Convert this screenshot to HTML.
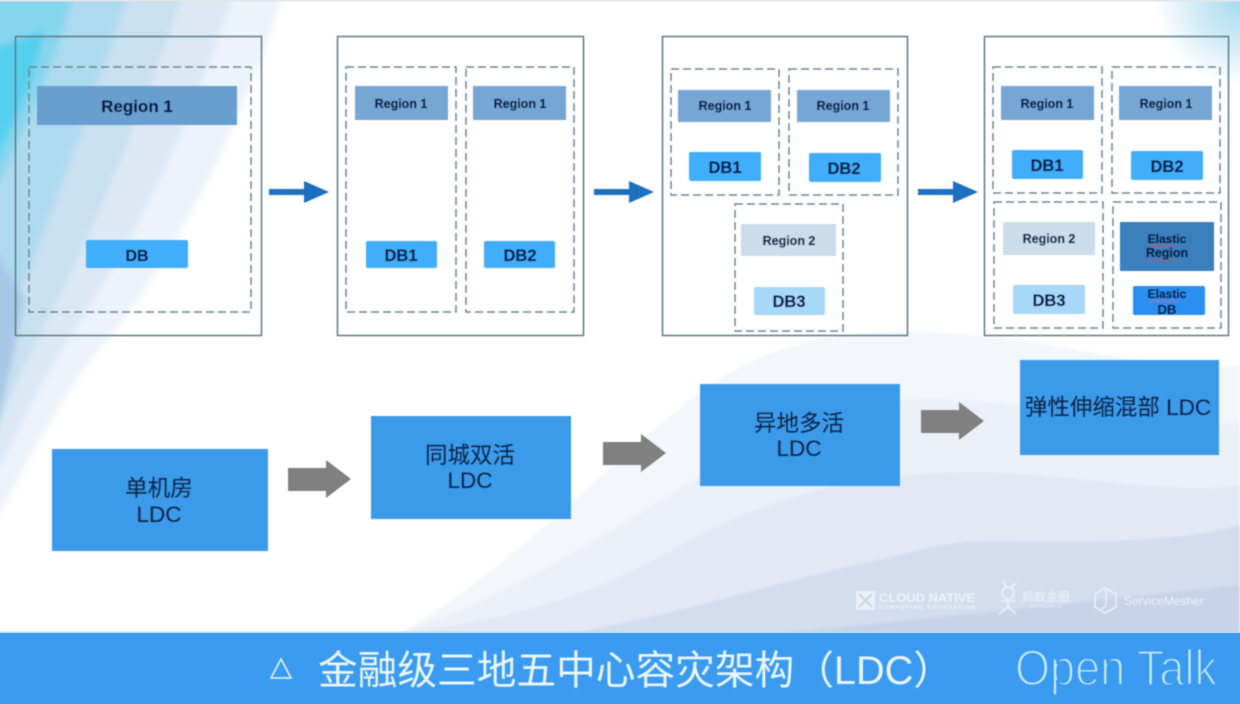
<!DOCTYPE html>
<html><head><meta charset="utf-8"><style>
html,body{margin:0;padding:0;background:#fff}
svg{display:block}
text{font-family:"Liberation Sans","Noto Sans CJK SC",sans-serif;text-anchor:middle}
.b{font-weight:700;fill:#051a47;stroke:#051a47;stroke-width:.25}
.c{fill:#10244c;stroke:#10244c;stroke-width:.35;font-size:22.5px}
.p{fill:none;stroke:#5b7a88;stroke-width:1.5}
.d{fill:none;stroke:#6f8790;stroke-width:1.5;stroke-dasharray:8 4}
</style></head><body>
<svg width="1240" height="704" viewBox="0 0 1240 704" xmlns="http://www.w3.org/2000/svg">
<defs>
<radialGradient id="tr" cx="1240" cy="0" r="85" gradientUnits="userSpaceOnUse"><stop offset="0" stop-color="#a4dcf0"/><stop offset=".5" stop-color="#cfeaf6"/><stop offset="1" stop-color="#fff"/></radialGradient>
<filter id="s" x="-5%" y="-5%" width="110%" height="110%"><feGaussianBlur stdDeviation="0.4"/></filter>
<filter id="bl" x="-20%" y="-20%" width="140%" height="140%"><feGaussianBlur stdDeviation="3.5"/></filter>
<filter id="bw" x="-20%" y="-20%" width="140%" height="140%"><feGaussianBlur stdDeviation="1.2"/></filter>
</defs>
<rect width="1240" height="704" fill="#fff"/>
<g filter="url(#bl)">
<path d="M-10 -10H285C245 120 170 270 95 355C55 405 20 480 -10 530Z" fill="#edf3fa"/>
<path d="M-10 -10H235C190 130 130 250 65 345C35 395 10 445 -10 490Z" fill="#dce9f5"/>
<path d="M-10 -10H185C140 120 90 240 40 335C20 375 5 410 -10 445Z" fill="#c9e0f1"/>
<path d="M-10 -10H130C100 80 60 190 25 280L-10 350Z" fill="#aedaef"/>
<path d="M-10 -10H75C60 50 30 120 -10 200Z" fill="#86d5ee"/>
<path d="M-10 50L45 30C35 75 15 125 -10 170Z" fill="#55cfee"/>
<path d="M-10 240L25 300C15 345 5 400 -10 450Z" fill="#a7c7e6"/>
</g>
<rect x="1140" y="0" width="100" height="90" fill="url(#tr)"/>
<rect width="1240" height="1.5" fill="#e2e6e8"/>
<g filter="url(#bw)">
<path d="M400 633C510 570 600 470 700 392C790 325 900 325 1000 338C1100 350 1180 375 1240 365V633Z" fill="#f3f6fb"/>
<path d="M400 633C530 590 640 510 760 440C830 400 900 395 988 402C1080 410 1170 432 1240 422V633Z" fill="#ebf0f8"/>
<path d="M400 633C500 620 590 600 680 545C780 490 880 470 988 472C1080 475 1170 495 1240 485V633Z" fill="#e2e9f4"/>
<path d="M570 633C680 615 780 580 870 562C920 550 950 541 988 541C1080 541 1170 545 1240 525V633Z" fill="#d2ddee"/>
<path d="M780 633C900 622 1100 600 1240 585V633Z" fill="#c7d3e8"/>
</g>

<g filter="url(#s)">
<rect class="p" x="15.5" y="36.5" width="246" height="299"/>
<rect class="d" x="29" y="67" width="222" height="245"/>
<rect x="37" y="86" width="200" height="39" fill="#699fcf"/>
<text x="137" y="112" class="b" font-size="17">Region 1</text>
<rect x="86" y="240" width="102" height="28" rx="2" fill="#40aefb"/>
<text x="137" y="261" class="b" font-size="16">DB</text>

<rect class="p" x="337.5" y="36.5" width="246" height="299"/>
<rect class="d" x="346" y="67" width="110" height="245"/>
<rect class="d" x="466" y="67" width="108" height="245"/>
<rect x="355" y="86" width="93" height="34" fill="#74a6d4"/>
<rect x="473" y="86" width="93" height="34" fill="#74a6d4"/>
<text x="401" y="108" class="b" font-size="12.5">Region 1</text>
<text x="520" y="108" class="b" font-size="12.5">Region 1</text>
<rect x="366" y="241" width="71" height="27" rx="2" fill="#40aefb"/>
<rect x="484" y="241" width="71" height="27" rx="2" fill="#40aefb"/>
<text x="401" y="261" class="b" font-size="16.5">DB1</text>
<text x="520" y="261" class="b" font-size="16.5">DB2</text>

<rect class="p" x="662.5" y="36.5" width="245" height="299"/>
<rect class="d" x="671" y="69" width="108" height="126"/>
<rect class="d" x="789" y="69" width="109" height="126"/>
<rect class="d" x="735" y="204" width="108" height="127"/>
<rect x="678" y="90" width="93" height="32" fill="#74a6d4"/>
<rect x="797" y="90" width="93" height="32" fill="#74a6d4"/>
<rect x="741" y="224" width="95" height="32" fill="#ccdcea"/>
<text x="725" y="110" class="b" font-size="12.5">Region 1</text>
<text x="843" y="110" class="b" font-size="12.5">Region 1</text>
<text x="789" y="245" class="b" font-size="12.5">Region 2</text>
<rect x="689" y="152" width="72" height="29" rx="2" fill="#40aefb"/>
<rect x="809" y="153" width="72" height="29" rx="2" fill="#40aefb"/>
<rect x="754" y="287" width="71" height="28" rx="2" fill="#a8d8f8"/>
<text x="725" y="173" class="b" font-size="16.5">DB1</text>
<text x="844" y="174" class="b" font-size="16.5">DB2</text>
<text x="789" y="307" class="b" font-size="16.5">DB3</text>

<rect class="p" x="984.5" y="36.5" width="244" height="299"/>
<rect class="d" x="993" y="67" width="109" height="126"/>
<rect class="d" x="1112" y="67" width="108" height="126"/>
<rect class="d" x="994" y="202" width="109" height="126"/>
<rect class="d" x="1113" y="202" width="108" height="126"/>
<rect x="1001" y="86" width="93" height="34" fill="#74a6d4"/>
<rect x="1119" y="86" width="93" height="34" fill="#74a6d4"/>
<rect x="1003" y="222" width="92" height="33" fill="#ccdcea"/>
<rect x="1120" y="222" width="94" height="49" fill="#3b80bd"/>
<text x="1047" y="108" class="b" font-size="12.5">Region 1</text>
<text x="1166" y="108" class="b" font-size="12.5">Region 1</text>
<text x="1049" y="243" class="b" font-size="12.5">Region 2</text>
<text x="1167" y="243" class="b" font-size="12">Elastic</text>
<text x="1167" y="257" class="b" font-size="12.5">Region</text>
<path d="M1148 246q2 2 4 0t4 0t4 0t4 0t4 0t4 0t4 0" fill="none" stroke="#c0475a" stroke-width=".9"/>
<path d="M1148 260q2 2 4 0t4 0t4 0t4 0t4 0t4 0t4 0" fill="none" stroke="#c0475a" stroke-width=".7"/>
<rect x="1012" y="150" width="71" height="29" rx="2" fill="#40aefb"/>
<rect x="1131" y="151" width="72" height="29" rx="2" fill="#40aefb"/>
<rect x="1013" y="285" width="72" height="29" rx="2" fill="#a8d8f8"/>
<rect x="1133" y="286" width="72" height="29" rx="2" fill="#2c8fee"/>
<text x="1047" y="171" class="b" font-size="16.5">DB1</text>
<text x="1167" y="172" class="b" font-size="16.5">DB2</text>
<text x="1049" y="306" class="b" font-size="16.5">DB3</text>
<text x="1167" y="298" class="b" font-size="12">Elastic</text>
<text x="1167" y="314" class="b" font-size="13">DB</text>
<path d="M1150 301q2 2 4 0t4 0t4 0t4 0t4 0t4 0t4 0" fill="none" stroke="#b95a86" stroke-width=".7"/>

<g fill="#1f70bf">
<path d="M269 189H304V181L329 192L304 203V195H269Z"/>
<path d="M594 189H629V181L654 192L629 203V195H594Z"/>
<path d="M918 189H953V181L978 192L953 203V195H918Z"/>
</g>
<g fill="#808080">
<path d="M288 468H326V460L351 479L326 498V491H288Z"/>
<path d="M603 442H641V434L666 453L641 472V465H603Z"/>
<path d="M921 410H959V402L984 421L959 440V433H921Z"/>
</g>
<g fill="#3a9bea">
<rect x="52" y="449" width="216" height="102"/>
<rect x="371" y="416" width="200" height="103"/>
<rect x="700" y="384" width="200" height="102"/>
<rect x="1020" y="360" width="199" height="95"/>
</g>
<text x="159" y="496" class="c">单机房</text>
<text x="159" y="522" class="c">LDC</text>
<text x="470" y="463" class="c">同城双活</text>
<text x="470" y="488" class="c">LDC</text>
<text x="799" y="431" class="c">异地多活</text>
<text x="799" y="456" class="c">LDC</text>
<text x="1118" y="415" class="c">弹性伸缩混部 LDC</text>
</g>

<g filter="url(#s)" fill="#f0f4fa" opacity=".9">
<rect x="856" y="591" width="19" height="19" fill="#eef2f9"/>
<path d="M859 594L872 607M872 594L859 607" stroke="#ccd6e8" stroke-width="2"/>
<text x="927" y="602" font-size="12" font-weight="700" textLength="96" lengthAdjust="spacingAndGlyphs">CLOUD NATIVE</text>
<text x="927" y="609" font-size="5.5" font-weight="700" textLength="96">COMPUTING FOUNDATION</text>
<g fill="none" stroke="#eef2f9" stroke-width="1.7"><circle cx="1008" cy="593" r="6"/><path d="M1008 599V607M1008 607L999 614M1008 607L1016 614M1001 601L1015 601M1006 587L1003 581M1010 587L1017 583"/></g>
<text x="1046" y="601" font-size="12">蚂蚁金服</text>
<text x="1046" y="608" font-size="4.5">ANT FINANCIAL</text>
<path d="M1105 588L1116 594V607L1105 613L1095 607V594Z" fill="none" stroke="#eef2f9" stroke-width="1.6"/>
<path d="M1106 590V606L1101 609" fill="none" stroke="#eef2f9" stroke-width="1.4"/>
<text x="1164" y="605" font-size="12">ServiceMesher</text>
</g>

<rect y="633" width="1240" height="71" fill="#3a9bf0"/>
<rect y="631.5" width="1240" height="1.5" fill="#b9d9f3"/>
<g filter="url(#s)">
<path d="M281 659L291 678H271Z" fill="none" stroke="#eaf6ff" stroke-width="1.5"/>
<text x="318" y="684" font-size="39.7" fill="#eaf6ff" style="text-anchor:start">金融级三地五中心容灾架构（LDC）</text>
<text x="1015" y="685" font-size="50" fill="#c9f2ff" stroke="#3a9bf0" stroke-width="2.3" style="text-anchor:start" textLength="202" lengthAdjust="spacingAndGlyphs">Open Talk</text>
</g>
</svg>
</body></html>
